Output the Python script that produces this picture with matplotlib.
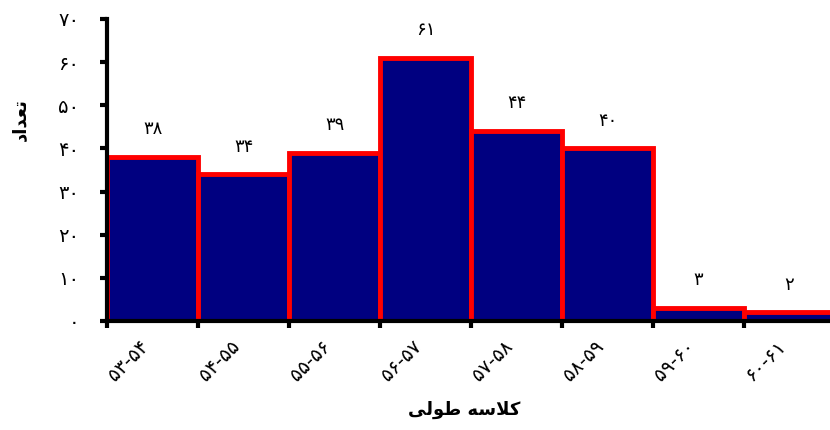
import matplotlib.pyplot as plt

# Length classes and fish counts
classes = ['۵۳-۵۴', '۵۴-۵۵', '۵۵-۵۶', '۵۶-۵۷', '۵۷-۵۸', '۵۸-۵۹', '۵۹-۶۰', '۶۰-۶۱']
counts  = [38, 34, 39, 61, 44, 40, 3, 2]
count_labels = ['۳۸', '۳۴', '۳۹', '۶۱', '۴۴', '۴۰', '۳', '۲']
yticks       = [0, 10, 20, 30, 40, 50, 60, 70]
ytick_labels = ['۰', '۱۰', '۲۰', '۳۰', '۴۰', '۵۰', '۶۰', '۷۰']

# Shaped (presentation forms, visual order) since matplotlib does no Arabic shaping
xlabel = '\uFBFD\uFEDF\uFEEE\uFEC3 \uFEEA\uFEB3\uFEFC\uFB90'   # کلاسه طولی
ylabel = '\uFEA9\uFE8D\uFEAA\uFECC\uFE97'                      # تعداد

plt.rcParams['font.family'] = ['DejaVu Sans']

fig = plt.figure(figsize=(8.3, 4.3), dpi=100)
ax = fig.add_axes([107 / 830, 1 - 321 / 430, 728 / 830, 302 / 430])

x = range(len(counts))
ax.bar(x, counts, width=1.0, align='edge', color='#000080',
       edgecolor='#ff0000', linewidth=3.5, zorder=1)

for xi, c, lab in zip(x, counts, count_labels):
    ax.annotate(lab, (xi + 0.5, c), xytext=(0, 20), textcoords='offset points',
                ha='center', va='center', fontsize=13)

ax.set_xlim(0, len(counts))
ax.set_ylim(0, 70)

# tick marks between classes, labels under class centres
ax.set_xticks(range(len(counts) + 1))
ax.set_xticklabels([])
ax.set_xticks([i + 0.5 for i in x], minor=True)
ax.set_xticklabels(classes, minor=True, rotation=45, ha='right', fontsize=14)
ax.tick_params(axis='x', which='minor', length=0, pad=11)
ax.tick_params(axis='x', which='major', length=5, width=3, direction='out')

ax.set_yticks(yticks)
ax.set_yticklabels(ytick_labels, fontsize=14)
ax.tick_params(axis='y', length=5, width=3, direction='out', pad=15)

for side in ['top', 'right']:
    ax.spines[side].set_visible(False)
for side in ['left', 'bottom']:
    ax.spines[side].set_linewidth(3)
    ax.spines[side].set_zorder(3)

ax.set_xlabel(xlabel, fontsize=13, fontweight='bold')
ax.xaxis.set_label_coords((464 - 107) / 728, -(401 - 321) / 302)
ax.set_ylabel(ylabel, fontsize=13, fontweight='bold')
ax.yaxis.set_label_coords(-(107 - 29) / 728, (321 - 120) / 302)

fig.savefig('out.png', dpi=100)
